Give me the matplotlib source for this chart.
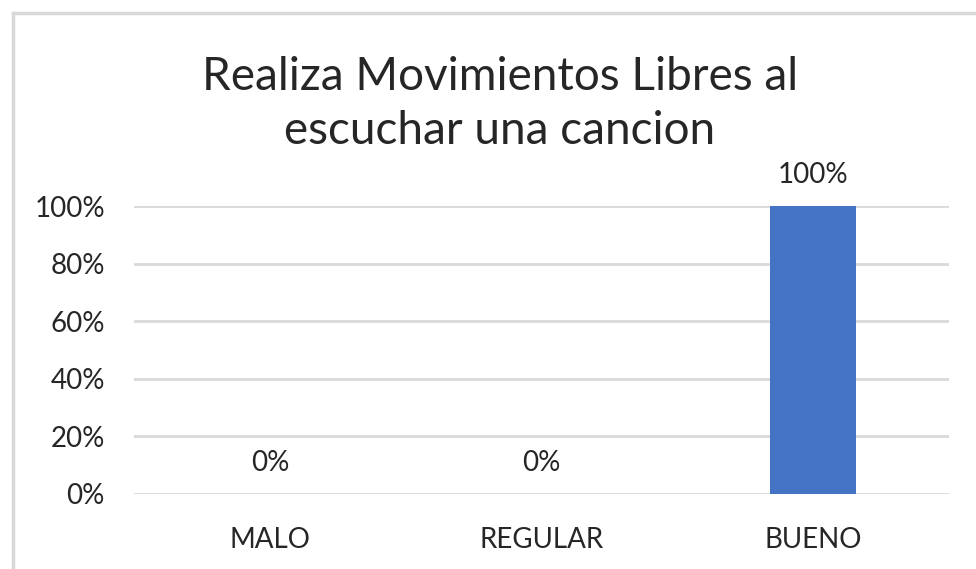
import matplotlib.pyplot as plt
from matplotlib.lines import Line2D
from matplotlib.ticker import PercentFormatter

# Data
categories = ['MALO', 'REGULAR', 'BUENO']
values = [0.0, 0.0, 1.0]
title = 'Realiza Movimientos Libres al\nescuchar una cancion'

plt.rcParams['font.family'] = ['Lato', 'DejaVu Sans']
text_color = '#262626'
grid_color = '#D9D9D9'
bar_color = '#4472C4'

W, H = 976, 569
fig = plt.figure(figsize=(W / 100, H / 100), dpi=100)
fig.patch.set_facecolor('white')

# chart frame (only left/top visible in the crop)
fx = 12.5 / W
fy = 1 - 12.5 / H
fig.add_artist(Line2D([fx, fx], [0, fy], transform=fig.transFigure,
                      color=grid_color, lw=2.5))
fig.add_artist(Line2D([fx, 1], [fy, fy], transform=fig.transFigure,
                      color=grid_color, lw=2.5))

left, right = 134 / W, 949 / W
bottom, top = 1 - 494 / H, 1 - 206 / H
ax = fig.add_axes([left, bottom, right - left, top - bottom])

x = range(len(categories))
bars = ax.bar(x, values, width=0.315, color=bar_color, zorder=3)

ax.set_xlim(-0.5, len(categories) - 0.5)
ax.set_ylim(0, 1)
ax.set_yticks([0, 0.2, 0.4, 0.6, 0.8, 1.0])
ax.yaxis.set_major_formatter(PercentFormatter(1.0, decimals=0))
ax.set_xticks(list(x))
ax.set_xticklabels(categories)
ax.grid(axis='y', color=grid_color, lw=2, zorder=0)
ax.set_axisbelow(True)
for s in ax.spines.values():
    s.set_visible(False)
ax.tick_params(axis='both', length=0, labelsize=20, colors=text_color)
ax.tick_params(axis='y', pad=21)
ax.tick_params(axis='x', pad=24)

for xi, v in zip(x, values):
    ax.annotate(f'{v:.0%}', (xi, v), xytext=(0, 13), textcoords='offset points',
                ha='center', va='bottom', fontsize=20, color=text_color)

fig.text(0.512, 1 - 104 / H, title, ha='center', va='center',
         fontsize=33, color=text_color, linespacing=1.38)

fig.savefig('out.png', dpi=100)
